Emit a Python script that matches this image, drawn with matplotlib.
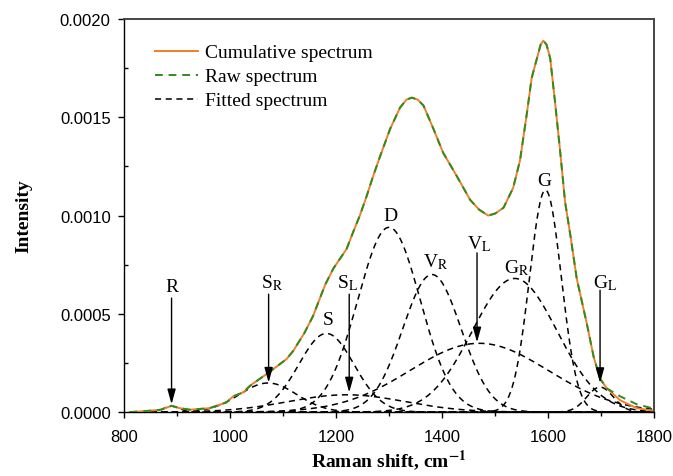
import numpy as np
import matplotlib
matplotlib.use("Agg")
import matplotlib.pyplot as plt
from matplotlib.ticker import MultipleLocator, FormatStrFormatter

raw_shift = [811, 830, 849, 870, 890, 905, 925, 962, 994, 1006, 1025, 1038, 1075,
             1107, 1119, 1140, 1157, 1167, 1180, 1195, 1210, 1220, 1233, 1245, 1258,
             1270, 1283, 1302, 1321, 1333, 1343, 1354, 1365, 1384, 1402, 1428, 1453,
             1470, 1487, 1500, 1516, 1534, 1547, 1560, 1569, 1579, 1586, 1591, 1597,
             1604, 1613, 1623, 1632, 1642, 1654, 1673, 1686, 1698, 1711, 1736, 1767,
             1796]
raw_intensity = [0.0, 0.000003, 0.000007, 0.000012, 0.000032, 0.00002, 0.000012,
                 0.00002, 0.00005, 0.00008, 0.0001, 0.000134, 0.000205, 0.00027,
                 0.00031, 0.0004, 0.00049, 0.00056, 0.00065, 0.00073, 0.00079,
                 0.00083, 0.00092, 0.001, 0.0011, 0.0012, 0.0013, 0.00144, 0.00155,
                 0.00159, 0.0016, 0.00159, 0.00156, 0.00144, 0.00132, 0.0012,
                 0.00108, 0.00103, 0.001, 0.00101, 0.00104, 0.00114, 0.00128,
                 0.00152, 0.0017, 0.0018, 0.00187, 0.00189, 0.00187, 0.0018,
                 0.00158, 0.00132, 0.00107, 0.0009, 0.00068, 0.00045, 0.00028,
                 0.00017, 0.00012, 0.00008, 0.00004, 0.00002]

# --- cumulative (fitted sum) spectrum ---
cum_shift = raw_shift
cum_intensity = raw_intensity[:-3] + [0.00006, 0.00002, 0.000008]

# --- fitted Gaussian bands: centre (cm-1), height, sigma (cm-1) ---
band_names = ["R", "S_R", "S", "S_L", "D", "V_R", "V_L", "G_R", "G", "G_L"]
band_centers = [890, 1072, 1182, 1220, 1300, 1381, 1470, 1537, 1595, 1698]
band_heights = [0.00003, 0.000148, 0.0004, 0.000088, 0.00094, 0.0007, 0.00035,
                0.00068, 0.00113, 0.000127]
band_sigmas = [15, 54, 52, 110, 59, 55, 130, 80, 30, 25]

# --- annotation labels: text, text position, arrow (None = no arrow) ---
label_texts = [r"R", r"S$_\mathrm{R}$", r"S", r"S$_\mathrm{L}$", r"D",
               r"V$_\mathrm{R}$", r"V$_\mathrm{L}$", r"G$_\mathrm{R}$", r"G",
               r"G$_\mathrm{L}$"]
label_x = [890, 1080, 1185, 1222, 1302, 1388, 1471, 1541, 1592, 1707]
label_y = [0.00064, 0.00066, 0.00047, 0.00066, 0.001, 0.00077, 0.00086,
           0.00074, 0.00118, 0.00066]
arrow_x = [890, 1073, None, 1225, None, None, 1466, None, None, 1698]
arrow_top = [0.00058, 0.0006, None, 0.0006, None, None, 0.00081, None, None, 0.00062]
arrow_tip = [0.00004, 0.00015, None, 0.0001, None, None, 0.000355, None, None, 0.000148]

plt.rcParams["mathtext.fontset"] = "stix"
serif = "Liberation Serif"
sans = "Liberation Sans"

fig = plt.figure(figsize=(6.73, 4.77), dpi=100)
ax = fig.add_axes([0.184, 0.134, 0.788, 0.824])

shift = np.arange(810, 1801, 1.0)
bands = [h * np.exp(-(shift - c) ** 2 / (2 * s ** 2))
         for c, h, s in zip(band_centers, band_heights, band_sigmas)]

ax.plot(cum_shift, cum_intensity, color="#F07F2A", lw=1.4, zorder=3,
        label="Cumulative spectrum")
ax.plot(raw_shift, raw_intensity, color="#2E8B1E", lw=1.4, ls=(0, (4, 3)),
        zorder=4, label="Raw spectrum")
for i, b in enumerate(bands):
    ax.plot(shift, b, color="black", lw=1.1, ls=(0, (4, 3)), zorder=2,
            label="Fitted spectrum" if i == 0 else None)

for i, txt in enumerate(label_texts):
    ax.text(label_x[i], label_y[i], txt, ha="center", va="center",
            fontsize=14, family=serif, zorder=5)
    if arrow_x[i] is not None:
        ax.annotate("", xy=(arrow_x[i], arrow_tip[i]),
                    xytext=(arrow_x[i], arrow_top[i]),
                    arrowprops=dict(arrowstyle="-|>,head_width=0.25,head_length=0.9",
                                    color="black", lw=1.0, shrinkA=0, shrinkB=0),
                    zorder=6)

ax.set_xlim(800, 1800)
ax.set_ylim(0, 0.002)
ax.xaxis.set_major_locator(MultipleLocator(200))
ax.xaxis.set_minor_locator(MultipleLocator(100))
ax.yaxis.set_major_locator(MultipleLocator(0.0005))
ax.yaxis.set_minor_locator(MultipleLocator(0.00025))
ax.yaxis.set_major_formatter(FormatStrFormatter("%.4f"))
ax.tick_params(which="major", direction="out", length=4.5, width=1, labelsize=12)
ax.tick_params(axis="x", which="major", pad=8)
ax.tick_params(axis="y", which="major", pad=5)
ax.tick_params(axis="x", which="minor", direction="out", length=3, width=1)
ax.tick_params(axis="y", which="minor", direction="in", length=3, width=1)
for lbl in ax.get_xticklabels() + ax.get_yticklabels():
    lbl.set_family(sans)

for side in ["left", "bottom"]:
    ax.spines[side].set_linewidth(1.0)
for side in ["top", "right"]:
    ax.spines[side].set_linewidth(1.4)
    ax.spines[side].set_color("#444444")

ax.set_xlabel(r"Raman shift, cm$^{\mathbf{-1}}$", fontsize=14, family=serif,
              fontweight="bold")
ax.set_ylabel("Intensity", fontsize=14, family=serif, fontweight="bold")
ax.xaxis.set_label_coords(0.5, -0.09)
ax.yaxis.set_label_coords(-0.172, 0.5)

ax.legend(loc="upper left", bbox_to_anchor=(0.044, 0.957), frameon=False,
          prop={"family": serif, "size": 14}, handlelength=2.2,
          handletextpad=0.4, labelspacing=0.33, borderaxespad=0)

fig.savefig("out.png", dpi=100)
